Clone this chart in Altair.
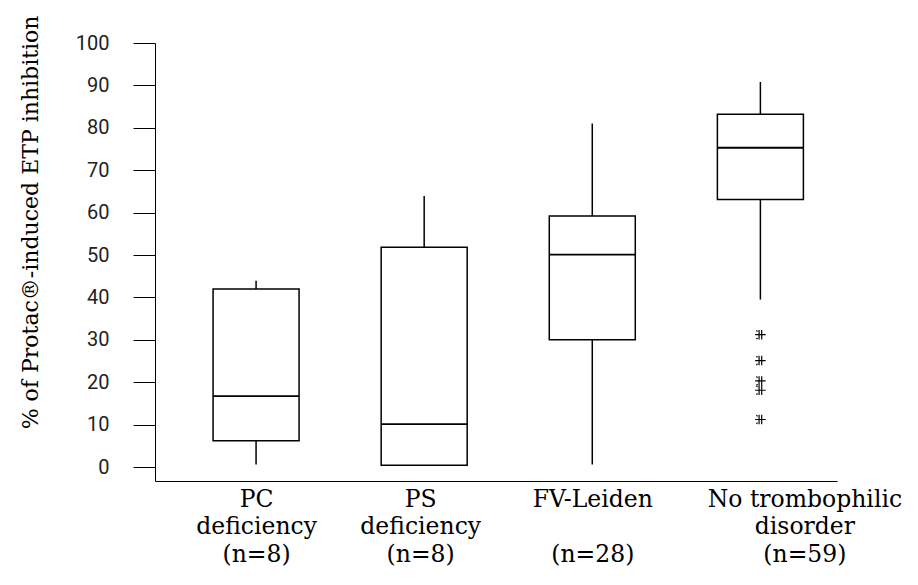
import json
import altair as alt
import pandas as pd

# ---- data ----
groups = ["PC deficiency", "PS deficiency", "FV-Leiden", "No trombophilic disorder"]
label_lines = [
    ["PC", "deficiency", "(n=8)"],
    ["PS", "deficiency", "(n=8)"],
    ["FV-Leiden", "\u200b", "(n=28)"],
    ["No trombophilic", "disorder", "(n=59)"],
]
whisker_low = [0.6, 0.4, 0.6, 39.5]
q1 = [6.2, 0.4, 30.0, 63.1]
median = [16.7, 10.1, 50.1, 75.3]
q3 = [42.0, 51.8, 59.2, 83.2]
whisker_high = [43.9, 63.9, 81.0, 90.8]
outlier_group = "No trombophilic disorder"
outlier_values = [31.2, 25.1, 20.3, 18.1, 11.2]
y_ticks = [0, 10, 20, 30, 40, 50, 60, 70, 80, 90, 100]
y_title = "% of Protac\u00ae-induced ETP inhibition"

SERIF = "DejaVu Serif"
SANS = "Roboto"

df = pd.DataFrame({
    "group": groups,
    "pos": list(range(len(groups))),
    "whisker_low": whisker_low,
    "q1": q1,
    "median": median,
    "q3": q3,
    "whisker_high": whisker_high,
})
odf = pd.DataFrame({
    "pos": [groups.index(outlier_group)] * len(outlier_values),
    "value": outlier_values,
})

label_expr = json.dumps(label_lines) + "[datum.value]"

x_axis = alt.Axis(
    values=list(range(len(groups))),
    labelExpr=label_expr,
    ticks=False,
    grid=False,
    domainColor="black",
    domainWidth=1,
    labelFont=SERIF,
    labelFontSize=23.5,
    labelColor="black",
    labelLineHeight=27.5,
    labelPadding=6,
    labelBaseline="top",
    labelOverlap=False,
    labelFlush=False,
    labelBound=False,
    labelLimit=0,
    labelOffset={"condition": [{"test": "datum.value == 3", "value": 44},
                               {"test": "datum.value == 1", "value": -4}],
                 "value": 0},
)
y_axis = alt.Axis(
    values=y_ticks,
    grid=False,
    tickSize=22,
    tickColor="black",
    tickWidth=1,
    domainColor="black",
    domainWidth=1,
    labelFont=SANS,
    labelFontSize=20,
    labelColor="#222222",
    labelPadding=24,
    titleFont=SERIF,
    titleFontSize=22,
    titleFontWeight="normal",
    titleColor="black",
    titleAngle=270,
    titleAlign="right",
    titleBaseline="middle",
    titleX=-125,
    titleY=-28,
    titleLimit=0,
)

x_scale = alt.Scale(domain=[-0.5715, 3.426], nice=False, zero=False)
y_scale = alt.Scale(domain=[-3.3, 100], nice=False, zero=False)

X = alt.X("pos:Q", scale=x_scale, axis=x_axis, title=None)

base = alt.Chart(df)

whiskers = base.mark_rule(color="black", strokeWidth=1.5).encode(
    x=X,
    y=alt.Y("whisker_low:Q", scale=y_scale, axis=y_axis, title=y_title),
    y2="whisker_high:Q",
)
boxes = base.mark_bar(size=86, fill="white", stroke="black", strokeWidth=1.5).encode(
    x=X,
    y=alt.Y("q1:Q", scale=y_scale, axis=y_axis, title=y_title),
    y2="q3:Q",
)
medians = base.mark_tick(orient="horizontal", size=86, thickness=1.8, color="black", opacity=1).encode(
    x=X,
    y=alt.Y("median:Q", scale=y_scale, axis=y_axis, title=y_title),
)

star_path = ("M-1,0L1,0M-0.25,-0.9L-0.25,0.9M0.25,-0.9L0.25,0.9"
             "M-0.75,-0.85L-0.55,-0.6M-0.75,0.85L-0.55,0.6")
outliers = alt.Chart(odf).mark_point(
    shape=star_path, size=110, filled=False, stroke="black", strokeWidth=1.2, opacity=1
).encode(
    x=X,
    y=alt.Y("value:Q", scale=y_scale, axis=y_axis, title=y_title),
)

chart = alt.layer(whiskers, boxes, medians, outliers).properties(
    width=682,
    height=438,
    autosize=alt.AutoSizeParams(type="none"),
    padding={"left": 155, "top": 43, "right": 81, "bottom": 104},
    background="white",
).configure_view(strokeWidth=0)

chart.save("out.html", embed_options={"renderer": "svg", "actions": False})
